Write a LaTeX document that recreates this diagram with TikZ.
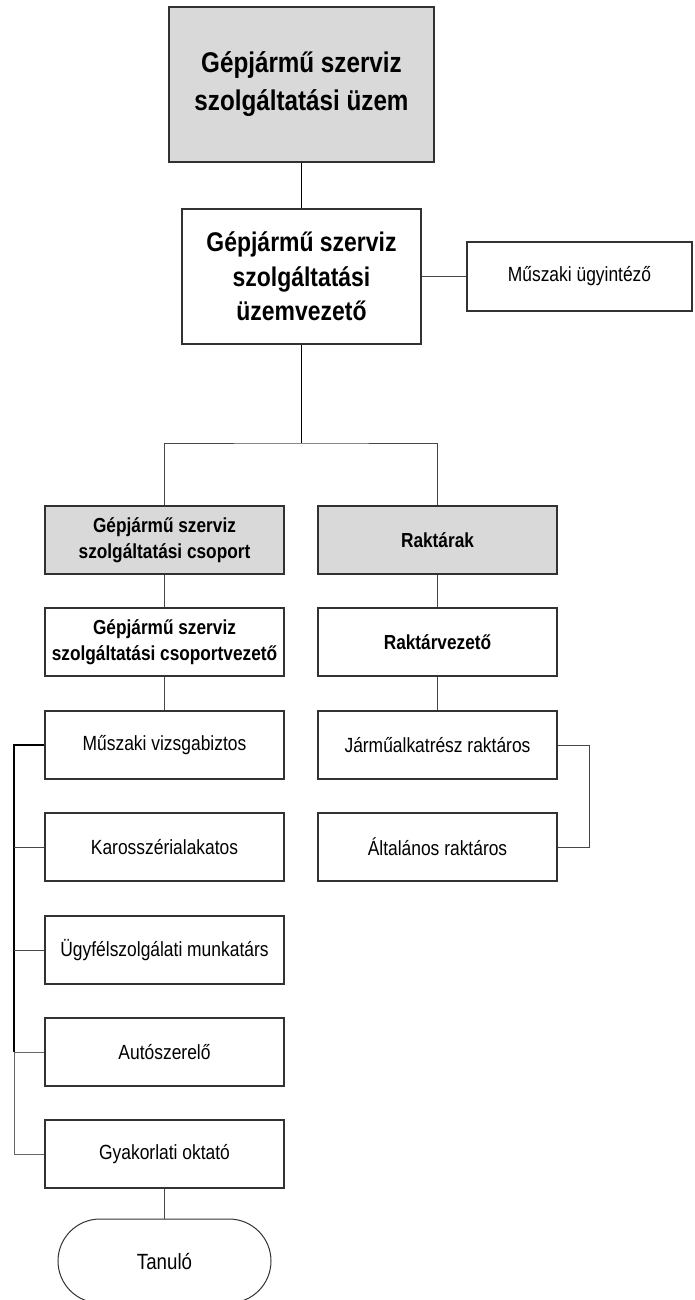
\documentclass[tikz,border=0pt]{standalone}
\usepackage{fontspec}
\setmainfont[FakeStretch=0.85]{Liberation Sans}
\definecolor{boxgray}{RGB}{217,217,217}
\definecolor{edge}{RGB}{50,50,50}
\definecolor{conn}{RGB}{70,70,70}
\tikzset{
  box/.style={draw=edge, line width=1.1bp, rectangle, align=center, inner sep=0pt},
  colbox/.style={box, minimum width=239bp, minimum height=68bp},
  graybox/.style={colbox, fill=boxgray},
  regtext/.style={font=\fontsize{20.5bp}{26bp}\selectfont},
  boldtext/.style={font=\fontsize{20.3bp}{26bp}\selectfont\bfseries},
  link/.style={draw=conn, line width=1bp},
}
\begin{document}
\begin{tikzpicture}[x=1bp,y=-1bp]
\useasboundingbox (0,0) rectangle (694,1300);
\clip (0,0) rectangle (694,1300);
% top
\node[box, fill=boxgray, minimum width=265bp, minimum height=155bp,
      font=\fontsize{28.5bp}{38bp}\selectfont\bfseries] (top) at (301.5,84.5)
      {Gépjármű szerviz\\szolgáltatási üzem};
\node[box, minimum width=239bp, minimum height=135bp,
      font=\fontsize{27bp}{34.5bp}\selectfont\bfseries] (mid) at (301.5,276.5)
      {Gépjármű szerviz\\szolgáltatási\\üzemvezető};
\node[box, regtext, minimum width=225bp, minimum height=69bp] (mu) at (579.5,276.5)
      {Műszaki ügyintéző};
% columns
\node[graybox, boldtext] (g1) at (164.5,540) {Gépjármű szerviz\\szolgáltatási csoport};
\node[colbox, boldtext] (g2) at (164.5,642) {Gépjármű szerviz\\szolgáltatási csoportvezető};
\node[colbox, regtext] (m1) at (164.5,745) {Műszaki vizsgabiztos};
\node[colbox, regtext] (ka) at (164.5,847) {Karosszérialakatos};
\node[colbox, regtext] (uf) at (164.5,950) {Ügyfélszolgálati munkatárs};
\node[colbox, regtext] (au) at (164.5,1052) {Autószerelő};
\node[colbox, regtext] (gy) at (164.5,1154) {Gyakorlati oktató};
\node[draw=edge, line width=1bp, rounded corners=42bp, minimum width=213bp, minimum height=84bp,
      font=\fontsize{22bp}{26bp}\selectfont] (tan) at (164.5,1261) {Tanuló};
\node[graybox, boldtext] (r1) at (437.5,540) {Raktárak};
\node[colbox, boldtext] (r2) at (437.5,642) {Raktárvezető};
\node[colbox, regtext] (r3) at (437.5,745) {Járműalkatrész raktáros};
\node[colbox, regtext] (r4) at (437.5,847) {Általános raktáros};
% helper coordinates
\coordinate (bus) at (301.5,443);
\coordinate (lbx) at (14,0);
\coordinate (rbx) at (589,0);
% connectors
\draw[link, draw=black] (top.south) -- (mid.north);
\draw[link] (mid.east) -- (mu.west);
\draw[link, draw=black] (mid.south) -- (bus);
\draw[link] (g1.north) |- (bus) -| (r1.north);
\draw[link] (g1.south) -- (g2.north);
\draw[link] (g2.south) -- (m1.north);
\draw[link] (r1.south) -- (r2.north);
\draw[link] (r2.south) -- (r3.north);
\draw[link] (gy.south) -- (tan.north);
\draw[link, draw=black, line width=1.3bp] (m1.west) -- (m1.west -| lbx) -- (au.west -| lbx);
\draw[link, draw=black!60] (au.west -| lbx) |- (gy.west);
\draw[link] (ka.west) -- (ka.west -| lbx);
\draw[link] (uf.west) -- (uf.west -| lbx);
\draw[link, draw=black!60] (au.west) -- (au.west -| lbx);
\draw[link] (r3.east) -- (r3.east -| rbx) |- (r4.east);
\end{tikzpicture}
\end{document}
